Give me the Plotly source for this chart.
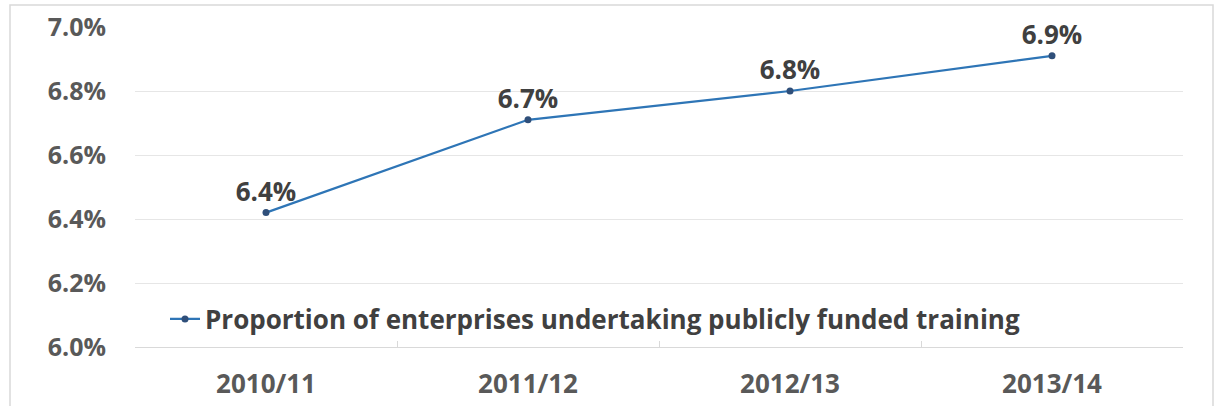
import plotly.graph_objects as go

years = ["2010/11", "2011/12", "2012/13", "2013/14"]
share_pct = [6.42, 6.71, 6.80, 6.91]
label_text = ["6.4%", "6.7%", "6.8%", "6.9%"]
series_name = "Proportion of enterprises undertaking publicly funded training"
y_ticks = [6.0, 6.2, 6.4, 6.6, 6.8, 7.0]
y_tick_text = ["6.0%", "6.2%", "6.4%", "6.6%", "6.8%", "7.0%"]

W, H = 1214, 406
L, R, T, B = 135, 31, 27, 59
pw, ph = W - L - R, H - T - B

FONT = "Open Sans"
fig = go.Figure()
fig.add_trace(go.Scatter(
    x=years, y=share_pct, name=series_name,
    mode="lines+markers+text",
    line=dict(color="#2E75B6", width=2.2),
    marker=dict(color="#2F4F7A", size=7),
    text=label_text, textposition="top center", cliponaxis=False,
    textfont=dict(family=FONT, size=26, color="#404040", weight="bold"),
))

# outer frame around the whole chart
fig.add_shape(type="rect", xref="paper", yref="paper",
              x0=(10 - L) / pw, x1=(1213 - L) / pw,
              y0=(T + ph - 410) / ph, y1=(T + ph - 5) / ph,
              line=dict(color="#D9D9D9", width=1.5), layer="below")

fig.update_layout(
    width=W, height=H,
    margin=dict(l=L, r=R, t=T, b=B, autoexpand=False),
    paper_bgcolor="white", plot_bgcolor="white",
    showlegend=True,
    legend=dict(x=(165 - L) / pw, y=(T + ph - 319) / ph,
                xanchor="left", yanchor="middle",
                bgcolor="rgba(0,0,0,0)",
                font=dict(family=FONT, size=26, color="#404040", weight="bold"),
                itemwidth=30),
    font=dict(family=FONT),
)
fig.update_xaxes(
    type="category", range=[-0.5, 3.5], automargin=False,
    showgrid=False, showline=True, linecolor="#D9D9D9", linewidth=1,
    ticks="inside", ticklen=6, tickcolor="#D9D9D9", tickson="boundaries",
    tickfont=dict(family=FONT, size=26, color="#595959", weight="bold"),
    ticklabelstandoff=14,
)
fig.update_yaxes(
    range=[6.0, 7.0], tickvals=y_ticks, ticktext=y_tick_text, automargin=False,
    showgrid=True, gridcolor="#E6E6E6", gridwidth=1,
    zeroline=False, showline=False,
    tickfont=dict(family=FONT, size=25, color="#595959", weight="bold"),
    ticklabelstandoff=28,
)

fig.write_html("out.html")
